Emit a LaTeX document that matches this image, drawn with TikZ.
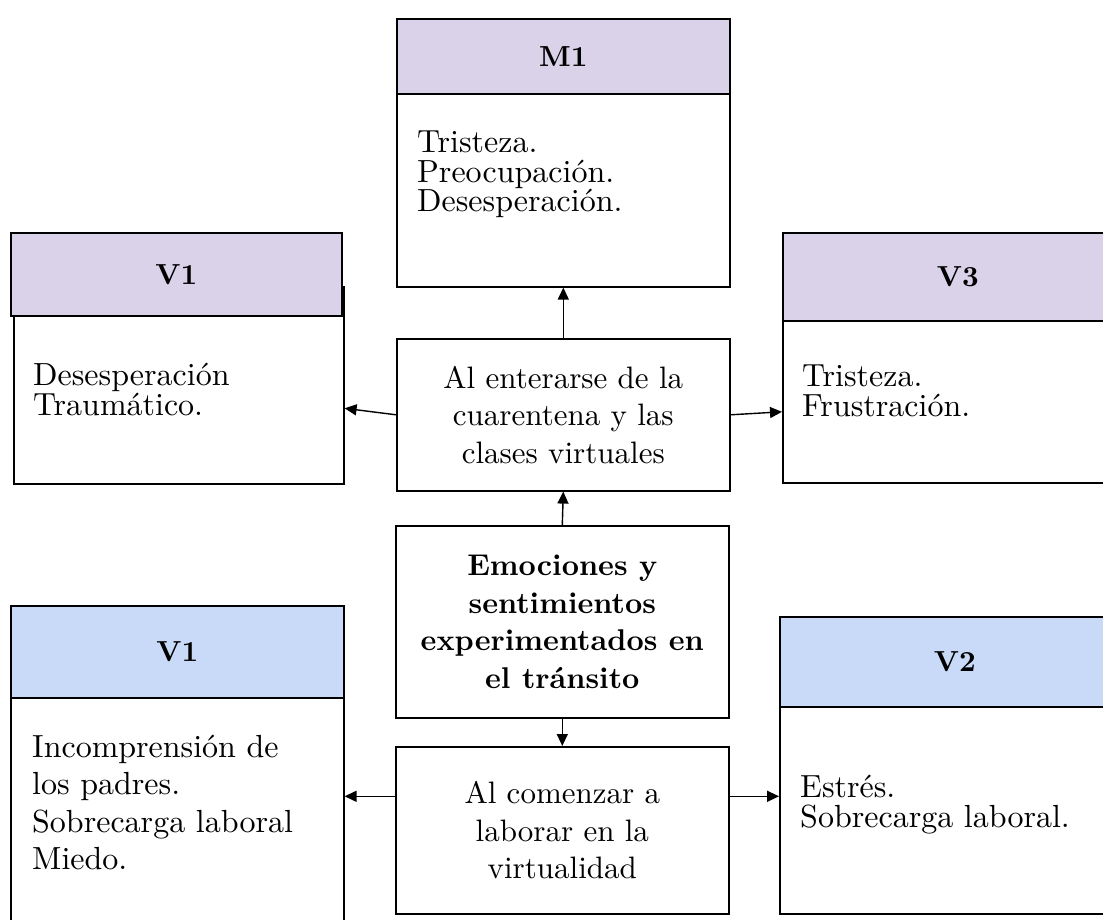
\documentclass[tikz,border=0pt]{standalone}
\usepackage{fontspec}
\setmainfont{lmroman10-regular.otf}[BoldFont=lmroman10-bold.otf]
\usepackage{tikz}
\usetikzlibrary{arrows.meta,positioning}
\definecolor{headpurple}{HTML}{D9D2E9}
\definecolor{headblue}{HTML}{C9DAF8}

\begin{document}
\begin{tikzpicture}[x=1pt, y=-1pt,
    cardbox/.style={draw, line width=1.6pt, rectangle, anchor=north west, inner sep=0pt, fill=white},
    headbox/.style={cardbox, font=\fontsize{29}{30}\selectfont\bfseries},
    midbox/.style={cardbox, align=center, minimum width=333pt},
    cardtext/.style={anchor=north west, inner sep=0pt, align=left, font=\fontsize{32}{29.5}\selectfont},
    arr/.style={line width=1.4pt, -{Triangle[length=12pt, width=11pt]}}]
    \useasboundingbox (0,0) rectangle (1103,920); % page size of the reference

    % top row
    \node[cardbox, minimum width=333pt, minimum height=193pt] (m1body) at (396,93) {};
    \node[headbox, fill=headpurple, minimum width=333pt, minimum height=75pt] (m1head) at (396,18) {M1};
    \node[cardtext] (m1text) at (417,131) {Tristeza.\\ Preocupación.\\ Desesperación.};

    \node[cardbox, minimum width=330pt, minimum height=197pt] (v1tbody) at (13,286) {};
    \node[headbox, fill=headpurple, minimum width=331pt, minimum height=83pt] (v1thead) at (10,232) {V1};
    \node[cardtext] (v1ttext) at (33,363) {Desesperación\\ Traumático.};

    \node[cardbox, minimum width=350pt, minimum height=162pt] (v3body) at (782,320) {};
    \node[headbox, fill=headpurple, minimum width=350pt, minimum height=88pt] (v3head) at (782,232) {V3};
    \node[cardtext] (v3text) at (802,365) {Tristeza.\\ Frustración.};

    % middle column
    \node[midbox, minimum height=152pt, font=\fontsize{31}{37.5}\selectfont] (quar) at (396,338)
        {Al enterarse de la\\ cuarentena y las\\ clases virtuales};
    \node[midbox, minimum height=192pt, font=\fontsize{30}{37.7}\selectfont\bfseries] (emo) at (395,525)
        {Emociones y\\ sentimientos\\ experimentados en\\ el tránsito};
    \node[midbox, minimum height=167pt, font=\fontsize{31}{37.5}\selectfont] (virt) at (395,746)
        {Al comenzar a\\ laborar en la\\ virtualidad};

    % bottom row
    \node[cardbox, minimum width=333pt, minimum height=240pt] (v1bbody) at (10,697) {};
    \node[headbox, fill=headblue, minimum width=333pt, minimum height=92pt] (v1bhead) at (10,605) {V1};
    \node[cardtext, font=\fontsize{32}{37.3}\selectfont] (v1btext) at (32,735)
        {Incomprensión de\\ los padres.\\ Sobrecarga laboral\\ Miedo.};

    \node[cardbox, minimum width=350pt, minimum height=207pt] (v2body) at (779,706) {};
    \node[headbox, fill=headblue, minimum width=350pt, minimum height=90pt] (v2head) at (779,616) {V2};
    \node[cardtext] (v2text) at (800,775) {Estrés.\\ Sobrecarga laboral.};

    % arrows
    \foreach \a/\b in {quar.north/m1body.south, emo.north/quar.south, emo.south/virt.north}
    \draw[arr] (\a) -- (\b);
    \draw[arr] (quar.west) -- ([yshift=-23pt]v1tbody.east);
    \draw[arr] (quar.east) -- ([yshift=-10pt]v3body.west);
    \draw[arr] ([yshift=34pt]virt.west) -- ([yshift=34pt]virt.west -| v1bbody.east);
    \draw[arr] ([yshift=34pt]virt.east) -- ([yshift=34pt]virt.east -| v2body.west);
\end{tikzpicture}
\end{document}
